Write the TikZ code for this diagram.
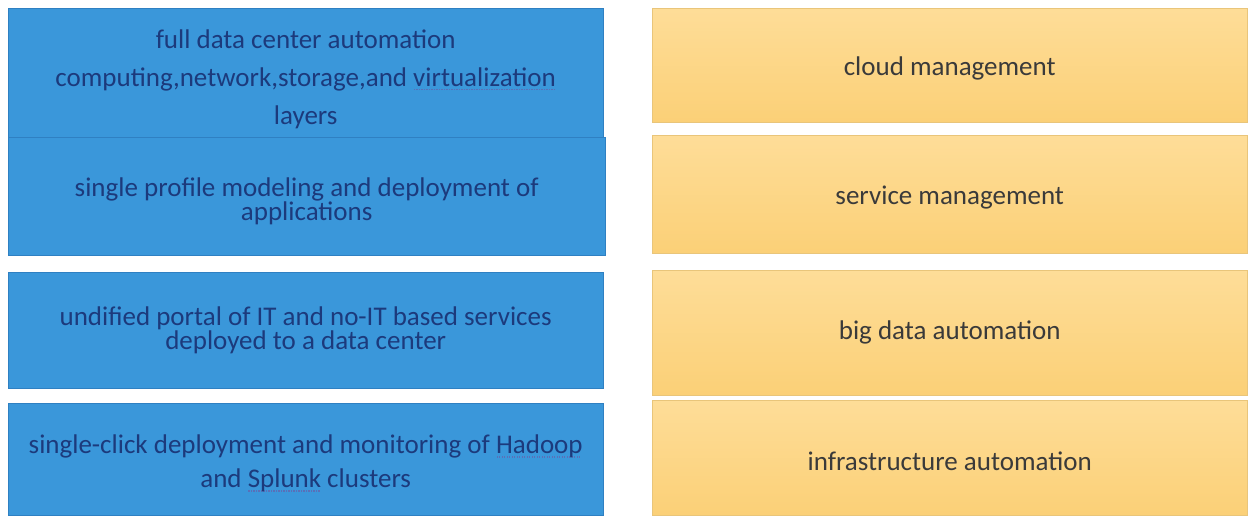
\documentclass[tikz,border=0pt]{standalone}
\usepackage{fontspec}
\setmainfont{Carlito}
\usepackage{tikz}
\definecolor{taskfill}{HTML}{3A97DA}
\definecolor{taskedge}{HTML}{2F80C2}
\definecolor{tasktext}{HTML}{1C3A7C}
\definecolor{areatop}{HTML}{FEDD98}
\definecolor{areabot}{HTML}{FBD077}
\definecolor{areaedge}{HTML}{E9C57A}
\definecolor{areatext}{HTML}{3A3A3A}
\definecolor{spellmark}{HTML}{5A6FB8}
\newcommand{\spellmark}[1]{\setbox0\hbox{#1}\rlap{\raisebox{-4pt}{\color{spellmark}\hbox to \wd0{\leaders\hbox to 2.5pt{\hss\rule{1.2pt}{1.2pt}\hss}\hfill}}}\box0\relax}
\newcommand{\sink}[1]{\rule{0pt}{#1}}

\begin{document}
\begin{tikzpicture}[x=1pt,y=-1pt]
 \tikzstyle{every node}=[inner sep=0pt, align=center, anchor=north west]
 \tikzstyle{task}=[draw=taskedge, fill=taskfill, text=tasktext, minimum width=595pt, font=\fontsize{27}{24.5}\selectfont]
 \tikzstyle{area}=[draw=areaedge, top color=areatop, bottom color=areabot, text=areatext, minimum width=595pt, font=\fontsize{27}{24}\selectfont]
 \useasboundingbox (0,0) rectangle (1250,515);
 \fill[white] (0,0) rectangle (1250,515);

 \node[task, minimum height=129pt, font=\fontsize{27}{38}\selectfont] (t1) at (8,8)
   {\sink{31pt}full data center automation\\ computing,network,storage,and \spellmark{virtualization}\\ layers};
 \node[task, minimum height=118pt, minimum width=597pt] (t2) at (8,137)
   {\sink{29pt}single profile modeling and deployment of\\ applications};
 \node[task, minimum height=116pt] (t3) at (8,272)
   {undified portal of IT and no-IT based services\\ deployed to a data center};
 \node[task, minimum height=112pt, font=\fontsize{27}{34}\selectfont] (t4) at (8,403)
   {\sink{27pt}single-click deployment and monitoring of \spellmark{Hadoop}\\ and \spellmark{Splunk} clusters};

 \node[area, minimum height=114pt] (a1) at (652,8) {\sink{25pt}cloud management};
 \node[area, minimum height=118pt] (a2) at (652,135) {\sink{25pt}service management};
 \node[area, minimum height=125pt] (a3) at (652,270) {big data automation};
 \node[area, minimum height=115pt] (a4) at (652,400) {\sink{25pt}infrastructure automation};
\end{tikzpicture}
\end{document}
